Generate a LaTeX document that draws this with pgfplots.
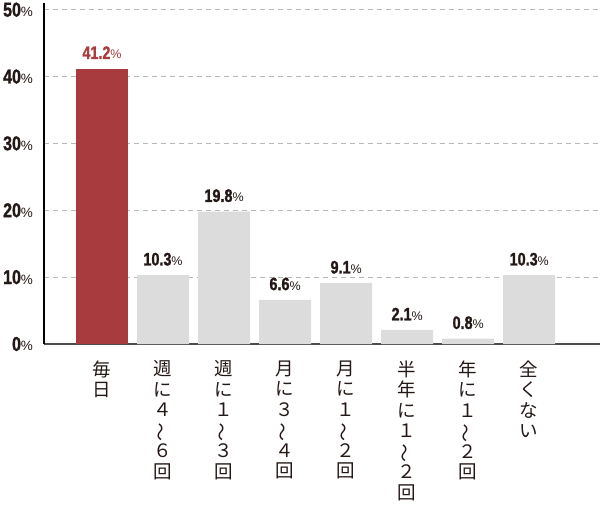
\documentclass[border=0pt]{standalone}
\usepackage{pgfplots}
\pgfplotsset{compat=1.18}
\usepackage{fontspec}
\usetikzlibrary{calc}
\setmainfont{Liberation Sans}
\newfontfamily\numfont{Liberation Sans}[FakeStretch=0.8, BoldFeatures={FakeBold=1.2}]
\newfontfamily\cjk{Noto Sans CJK JP}
\definecolor{barred}{HTML}{A83B3D}
\definecolor{bargray}{HTML}{DCDCDC}
\definecolor{txt}{HTML}{231815}
\newcommand{\til}{\rotatebox[origin=c]{90}{～}}
\begin{document}
\begin{tikzpicture}
\begin{axis}[
  scale only axis, width=556pt, height=341pt,
  xmin=-0.95, xmax=8.16, ymin=0, ymax=51,
  axis x line*=bottom, axis y line*=left,
  x axis line style={draw=black!70, line width=1.4pt},
  y axis line style={draw=black, line width=1.4pt},
  ybar, bar width=52pt, bar shift=0pt,
  ytick={0,10,20,30,40,50}, xtick={0,...,7},
  major tick length=0pt,
  ymajorgrids, grid style={draw=black!28, line width=0.9pt, dash pattern=on 5pt off 4pt},
  /pgf/number format/assume math mode=true,
  yticklabel={\textbf{\numfont\fontsize{20}{20}\selectfont\pgfmathprintnumber{\tick}}{\fontsize{13.5}{13.5}\selectfont\%}},
  yticklabel style={text=txt, xshift=-7.5pt},
  xticklabels={
    {毎\\日},
    {週\\に\\４\\\til\\６\\回},
    {週\\に\\１\\\til\\３\\回},
    {月\\に\\３\\\til\\４\\回},
    {月\\に\\１\\\til\\２\\回},
    {半\\年\\に\\１\\\til\\２\\回},
    {年\\に\\１\\\til\\２\\回},
    {全\\く\\な\\い}},
  xticklabel style={font=\cjk\fontsize{18.5}{20.5}\selectfont, align=center, anchor=north, yshift=-13pt, text=txt},
  nodes near coords={\textbf{\numfont\fontsize{18}{18}\selectfont\pgfmathprintnumber[fixed,precision=1,fixed zerofill]{\pgfplotspointmeta}}{\fontsize{12.5}{12.5}\selectfont\%}},
  nodes near coords style={anchor=south, yshift=6pt, text=txt},
  /pgf/number format/fixed,
]
\addplot[fill=barred, draw=none, nodes near coords style={text=barred}] coordinates {(0,41.2)};
\addplot[fill=bargray, draw=none] coordinates {(1,10.3) (2,19.8) (3,6.6) (4,9.1) (5,2.1) (6,0.8) (7,10.3)};
\coordinate (BL) at (rel axis cs:0,0);
\coordinate (TR) at (rel axis cs:1,1);
\end{axis}
\pgfresetboundingbox
\path ($(BL)+(-44pt,-160pt)$) rectangle ($(TR)+(0,3pt)$);
\end{tikzpicture}
\end{document}
